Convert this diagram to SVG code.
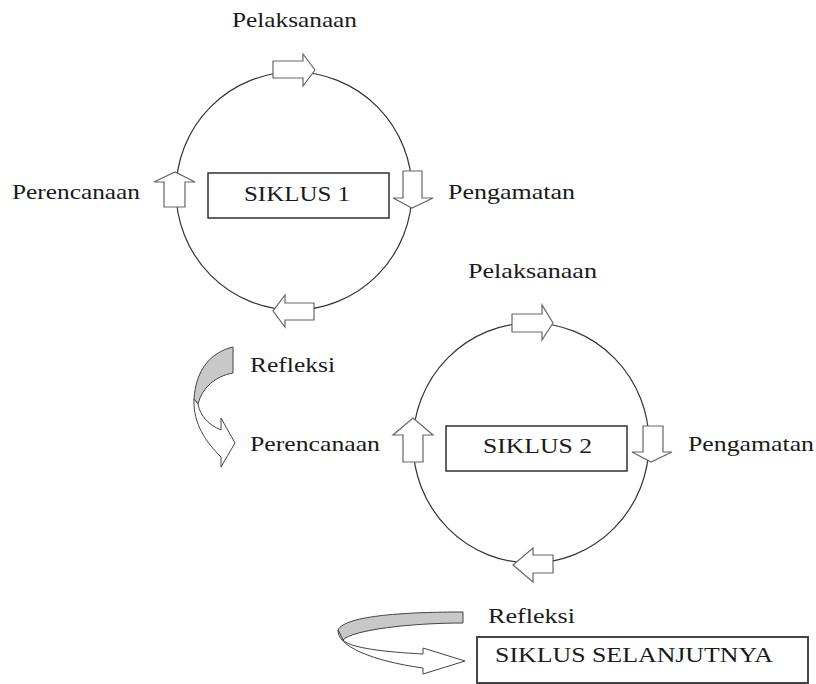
<svg xmlns="http://www.w3.org/2000/svg" width="816" height="684" viewBox="0 0 816 684">
<style>
.cyc{fill:none;stroke:#333;stroke-width:1.2}
.arr{fill:#fff;stroke:#666;stroke-width:1.2;stroke-linejoin:miter}
.box{fill:#fff;stroke:#222;stroke-width:1.4}
.lbl{font-family:"Liberation Serif","Times New Roman",serif;font-size:21px;fill:#1a1a1a}
.gray{fill:#c8c8c8;stroke:#444;stroke-width:1}
.rib{fill:#fff;stroke:#444;stroke-width:1}
</style>
<rect width="816" height="684" fill="#fff"/>
<g id="connectors">
  <ellipse class="cyc" cx="294" cy="191" rx="118" ry="119"/>
  <ellipse class="cyc" cx="531" cy="443" rx="118" ry="120"/>
  <polygon class="arr" points="273,61 303,61 303,54 315,70 303,86 303,78 273,78"/>
  <polygon class="arr" points="403,171 422,171 422,198 433,198 412,208 393,198 403,198"/>
  <polygon class="arr" points="314,303 285,303 285,295 273,311 285,327 285,320 314,320"/>
  <polygon class="arr" points="164,207 164,182 154,182 175,172 195,182 185,182 185,207"/>
  <polygon class="arr" points="512,314 542,314 542,305 553,323 542,340 542,332 512,332"/>
  <polygon class="arr" points="643,426 663,426 663,452 672,452 651,462 632,452 643,452"/>
  <polygon class="arr" points="553,555 533,555 533,548 513,565 533,582 533,573 553,573"/>
  <polygon class="arr" points="423,462 423,435 433,435 413,418 393,435 403,435 403,462"/>
  <g id="refleksi1-arrow">
    <path class="gray" d="M233,347 C212,352 196,368 194,399 L198,404 C202,388 215,376 233,373 Z"/>
    <path class="rib" d="M194,399 C193,424 206,442 221,457 L221,467 L235,443 L221,418 L221,430 C209,425 200,416 198,404 Z"/>
  </g>
  <g id="refleksi2-arrow">
    <path class="gray" d="M463,612 C410,612 345,615 338,630 L343,640 C352,630 410,623 463,623 Z"/>
    <path class="rib" d="M338,630 C337,646 372,661 423,668 L423,674 L465,661 L423,648 L423,654 C385,652 350,648 343,640 Z"/>
  </g>
</g>
<g id="siklus1">
  <rect class="box" x="208" y="173" width="181" height="45"/>
  <text class="lbl" x="244" y="201" textLength="106" lengthAdjust="spacingAndGlyphs">SIKLUS 1</text>
</g>
<g id="siklus2">
  <rect class="box" x="446" y="426" width="181" height="45"/>
  <text class="lbl" x="483" y="453" textLength="109" lengthAdjust="spacingAndGlyphs">SIKLUS 2</text>
</g>
<g id="siklus-selanjutnya">
  <rect class="box" x="477" y="637" width="331" height="46" style="stroke:#444;stroke-width:2"/>
  <text class="lbl" x="495" y="662" textLength="278" lengthAdjust="spacingAndGlyphs">SIKLUS SELANJUTNYA</text>
</g>
<g id="labels1">
  <text class="lbl" x="232" y="27" textLength="125" lengthAdjust="spacingAndGlyphs">Pelaksanaan</text>
  <text class="lbl" x="12" y="199" textLength="128" lengthAdjust="spacingAndGlyphs">Perencanaan</text>
  <text class="lbl" x="448" y="199" textLength="127" lengthAdjust="spacingAndGlyphs">Pengamatan</text>
  <text class="lbl" x="250" y="372" textLength="85" lengthAdjust="spacingAndGlyphs">Refleksi</text>
</g>
<g id="labels2">
  <text class="lbl" x="468" y="278" textLength="129" lengthAdjust="spacingAndGlyphs">Pelaksanaan</text>
  <text class="lbl" x="250" y="451" textLength="130" lengthAdjust="spacingAndGlyphs">Perencanaan</text>
  <text class="lbl" x="688" y="451" textLength="126" lengthAdjust="spacingAndGlyphs">Pengamatan</text>
  <text class="lbl" x="488" y="623" textLength="87" lengthAdjust="spacingAndGlyphs">Refleksi</text>
</g>
</svg>
